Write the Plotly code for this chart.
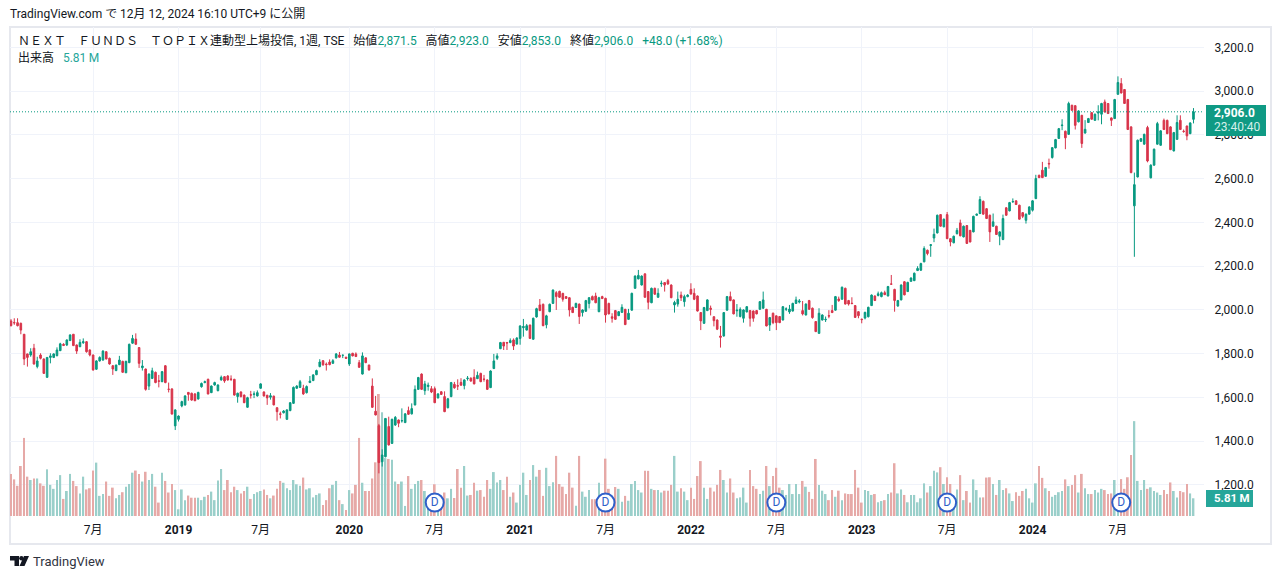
import pandas as pd
import plotly.graph_objects as go

# weekly candles, first bar is the week of 2018-01-15
open_ = [
    1950,1943,1942,1939,1889,1799,1794,1825,1741,1794,
    1776,1692,1783,1783,1791,1814,1843,1840,1860,1889,
    1840,1832,1850,1855,1817,1794,1729,1767,1771,1809,
    1779,1745,1723,1750,1765,1713,1759,1848,1867,1828,
    1736,1730,1652,1687,1715,1676,1672,1745,1638,1639,
    1470,1500,1561,1566,1623,1619,1616,1593,1649,1668,
    1683,1622,1657,1631,1680,1695,1698,1684,1683,1604,
    1625,1611,1555,1612,1614,1607,1642,1625,1610,1601,
    1606,1553,1525,1530,1500,1540,1573,1642,1646,1642,
    1622,1668,1677,1704,1741,1768,1753,1762,1756,1781,
    1794,1793,1784,1753,1802,1799,1759,1707,1781,1748,
    1652,1537,1471,1306,1329,1467,1390,1474,1497,1493,
    1485,1540,1525,1566,1637,1707,1631,1650,1640,1640,
    1598,1626,1604,1553,1604,1660,1654,1669,1654,1686,
    1688,1692,1686,1710,1684,1680,1645,1732,1779,1823,
    1852,1851,1851,1863,1844,1870,1919,1908,1931,1866,
    1968,2023,2026,1932,1992,2030,2079,2085,2076,2061,
    2056,2012,2011,2027,1988,1994,2030,2061,2064,1992,
    2061,2053,2030,1969,1997,1974,1989,2003,1957,1999,
    2099,2142,2114,2165,2084,2033,2099,2058,2120,2125,
    2134,2114,2023,2027,2068,2038,2061,2094,2076,2064,
    1988,1939,1997,2008,1969,1954,1881,1881,1999,2061,
    2046,1996,1970,1962,1991,1997,1995,1997,2003,2008,
    2003,1931,1985,1973,1970,1954,2003,1991,1995,2030,
    2036,1997,1977,2043,2008,1947,1893,1954,1955,1974,
    1997,1999,2050,2049,2099,2043,2031,2020,1992,1958,
    1963,1969,2020,2064,2066,2061,2079,2064,2119,2094,
    2018,2046,2129,2084,2131,2134,2180,2182,2220,2273,
    2295,2329,2352,2436,2380,2436,2326,2307,2349,2398,
    2334,2386,2364,2357,2433,2441,2497,2463,2433,2383,
    2383,2337,2322,2467,2453,2494,2499,2479,2445,2410,
    2438,2456,2509,2616,2639,2611,2670,2697,2741,2784,
    2843,2817,2803,2936,2934,2860,2890,2809,2857,2902,
    2867,2900,2895,2951,2944,2878,2875,2986,3035,3008,
    2962,2837,2476,2608,2771,2758,2834,2604,2662,2758,
    2753,2867,2867,2837,2727,2780,2867,2817,2841,2806,
    2871.5,
]
high = [
    1958,1962,1962,1942,1890,1800,1825,1845,1786,1802,
    1778,1785,1802,1802,1829,1850,1848,1865,1888,1890,
    1842,1866,1870,1858,1820,1796,1770,1788,1816,1812,
    1782,1748,1750,1790,1768,1768,1846,1886,1893,1830,
    1771,1732,1710,1736,1718,1703,1721,1748,1668,1642,
    1546,1518,1585,1610,1625,1622,1620,1626,1668,1677,
    1686,1655,1672,1660,1700,1698,1702,1701,1685,1622,
    1628,1613,1603,1630,1628,1632,1665,1628,1612,1620,
    1608,1555,1535,1542,1546,1578,1650,1656,1680,1658,
    1655,1698,1706,1727,1775,1771,1760,1774,1775,1803,
    1808,1795,1786,1801,1804,1806,1771,1806,1783,1750,
    1687,1607,1479,1363,1506,1512,1503,1515,1499,1550,
    1528,1558,1573,1655,1694,1710,1676,1668,1652,1650,
    1620,1629,1628,1597,1671,1671,1683,1688,1683,1698,
    1692,1729,1718,1713,1703,1683,1724,1799,1802,1854,
    1854,1854,1870,1870,1875,1930,1959,1936,1933,1965,
    2010,2050,2029,1978,2029,2094,2086,2088,2078,2063,
    2058,2015,2033,2029,2003,2046,2059,2066,2079,2060,
    2065,2056,2033,1985,2000,1995,2026,2005,2005,2079,
    2158,2183,2158,2167,2086,2102,2102,2099,2134,2127,
    2142,2117,2042,2084,2084,2070,2072,2122,2099,2066,
    1990,2014,2049,2020,1971,1957,1927,1990,2064,2084,
    2048,2027,2012,2003,2018,2000,1998,2000,2041,2084,
    2005,1968,1988,1975,1972,2018,2012,2023,2033,2061,
    2050,2041,2030,2046,2011,1949,2008,1980,1970,1999,
    2023,2064,2061,2107,2102,2046,2058,2022,1994,1960,
    1992,2015,2071,2066,2084,2084,2088,2110,2160,2097,
    2046,2117,2132,2129,2149,2171,2200,2216,2291,2276,
    2300,2372,2436,2438,2418,2448,2328,2340,2375,2413,
    2386,2388,2366,2431,2440,2520,2500,2466,2436,2441,
    2385,2360,2436,2470,2494,2510,2501,2481,2447,2441,
    2474,2502,2618,2618,2677,2654,2692,2745,2782,2832,
    2872,2820,2952,2938,2936,2913,2892,2868,2878,2905,
    2898,2936,2947,2962,2946,2880,2965,3068,3060,3010,
    2965,2840,2628,2779,2786,2806,2842,2666,2738,2860,
    2822,2875,2870,2840,2814,2890,2890,2825,2843,2858,
    2923,
]
low = [
    1925,1932,1925,1889,1748,1741,1786,1750,1733,1774,
    1708,1690,1756,1780,1788,1812,1835,1835,1858,1835,
    1799,1830,1845,1805,1788,1722,1726,1764,1768,1774,
    1750,1703,1720,1748,1713,1711,1757,1845,1841,1735,
    1723,1631,1634,1684,1665,1646,1670,1665,1623,1522,
    1451,1490,1555,1562,1585,1585,1583,1590,1645,1665,
    1614,1620,1654,1628,1677,1667,1677,1675,1608,1576,
    1600,1574,1553,1595,1597,1604,1640,1604,1566,1590,
    1564,1494,1504,1527,1497,1537,1570,1640,1643,1612,
    1618,1666,1675,1702,1738,1745,1723,1747,1754,1778,
    1782,1780,1776,1744,1788,1785,1735,1705,1757,1722,
    1552,1518,1253,1284,1326,1380,1388,1470,1464,1485,
    1483,1520,1522,1563,1634,1634,1612,1631,1620,1574,
    1595,1612,1533,1550,1601,1640,1634,1654,1637,1677,
    1672,1660,1684,1670,1672,1635,1643,1730,1771,1821,
    1817,1817,1848,1817,1842,1841,1878,1906,1868,1864,
    1965,1995,1926,1916,1990,2028,2000,2055,2038,2050,
    1970,1986,2009,1936,1970,1992,2007,2044,2031,1990,
    2050,1942,1980,1942,1955,1972,1986,1931,1955,1997,
    2097,2140,2112,2056,2003,2031,2070,2056,2106,2084,
    2115,2054,1988,2015,2041,2015,2058,2070,2045,1993,
    1908,1936,1995,1975,1925,1908,1828,1878,1997,2040,
    1980,1969,1966,1942,1989,1924,1946,1980,2001,2005,
    1925,1904,1935,1908,1940,1952,1995,1982,1993,2028,
    2030,1975,1975,2001,1960,1899,1891,1952,1945,1962,
    1986,1997,2037,2047,2025,2020,2027,1964,1962,1939,
    1957,1966,2018,2041,2062,2058,2068,2062,2116,1992,
    2015,2044,2067,2082,2129,2132,2178,2178,2218,2250,
    2243,2310,2350,2381,2378,2324,2291,2305,2345,2337,
    2332,2302,2309,2355,2431,2438,2436,2416,2311,2380,
    2343,2296,2319,2431,2451,2490,2480,2413,2420,2395,
    2436,2450,2507,2603,2603,2609,2646,2692,2739,2782,
    2822,2735,2800,2911,2825,2858,2741,2806,2855,2870,
    2865,2867,2849,2903,2896,2841,2873,2984,2990,2942,
    2823,2625,2243,2606,2769,2756,2675,2602,2660,2756,
    2751,2823,2804,2731,2725,2778,2823,2810,2776,2804,
    2853,
]
close = [
    1928,1941,1928,1908,1776,1783,1809,1753,1767,1779,
    1710,1783,1790,1799,1817,1845,1838,1863,1886,1837,
    1812,1852,1855,1809,1794,1726,1767,1783,1812,1776,
    1753,1730,1748,1771,1715,1765,1843,1870,1843,1756,
    1744,1637,1707,1722,1668,1674,1718,1668,1637,1524,
    1543,1515,1581,1607,1614,1588,1585,1623,1664,1672,
    1616,1652,1668,1657,1692,1675,1680,1683,1611,1619,
    1604,1576,1599,1611,1616,1622,1662,1607,1598,1608,
    1566,1535,1523,1538,1543,1576,1646,1652,1672,1616,
    1650,1675,1703,1723,1762,1749,1750,1750,1768,1799,
    1784,1793,1779,1799,1790,1787,1738,1790,1759,1726,
    1555,1520,1302,1337,1504,1383,1500,1509,1482,1494,
    1525,1523,1549,1637,1691,1637,1662,1656,1625,1576,
    1616,1614,1535,1594,1668,1644,1652,1656,1680,1688,
    1675,1662,1701,1672,1683,1637,1721,1767,1790,1851,
    1835,1849,1860,1835,1872,1927,1924,1928,1870,1962,
    2006,1997,1928,1973,2026,2091,2061,2058,2049,2053,
    2000,1988,2030,1970,2000,2043,2056,2046,2033,2056,
    2052,1977,1982,1962,1957,1992,2012,1933,1985,2076,
    2155,2158,2155,2058,2035,2099,2072,2076,2122,2114,
    2119,2056,2034,2049,2056,2061,2068,2073,2049,1995,
    1950,2011,2046,2003,1951,1912,1875,1988,2061,2043,
    1982,1999,2003,2000,2015,1962,1962,1982,2038,2046,
    1927,1965,1942,1942,1942,2015,2005,2004,2030,2046,
    2041,1982,2027,2003,1965,1901,1985,1977,1957,1972,
    1988,2061,2043,2104,2027,2027,2029,1966,1974,1956,
    1989,2012,2068,2043,2074,2079,2070,2107,2118,2043,
    2043,2114,2069,2126,2146,2168,2190,2212,2281,2258,
    2298,2346,2433,2383,2415,2326,2311,2337,2364,2339,
    2383,2304,2311,2428,2438,2505,2438,2418,2357,2403,
    2345,2357,2418,2433,2491,2496,2482,2415,2428,2438,
    2471,2499,2601,2605,2605,2651,2668,2742,2779,2829,
    2845,2787,2944,2913,2844,2910,2761,2826,2875,2872,
    2895,2905,2944,2905,2898,2867,2962,3040,2992,2944,
    2825,2628,2573,2776,2783,2803,2681,2662,2735,2852,
    2819,2825,2806,2733,2811,2857,2825,2816,2796,2855,
    2906,
]
# volume in millions of shares
volume = [
    13.8,12,9.9,16.4,25.6,12.9,11.8,12.3,12.3,10.7,
    9.9,15.3,10.2,8.9,11.8,13.4,5.6,8.2,13.8,11.5,
    9.8,7.4,12.9,8.7,9.1,14.9,17.5,6.6,7.2,11.3,
    6.6,9.3,5.8,6.9,7.8,9.6,10.5,14.2,14.9,13.8,
    11.3,14.5,11.8,13.8,9.6,4.4,14.2,11.5,7.7,10.5,
    8.5,2.2,8.7,5.2,6.7,6,6,6,5.2,6.3,
    6.9,8,5.2,11.6,15.4,8.5,11.8,7.8,9.6,8.5,
    7.4,8.2,9.6,5.6,7.2,7.8,8.2,8.7,6.9,5.8,
    6.7,8.9,11.5,10.9,9.1,8.5,11.8,10.4,9.9,12.6,
    8.7,9.1,6.1,6.9,7.4,3.6,5.2,9.1,10.2,11.5,
    5.2,3.9,2,8.5,7.4,10.2,25.6,10.9,8.2,8.2,
    12.3,17.6,40,34,19,18.7,18.4,11.3,10.5,11.3,
    3.3,13.1,8.9,10.5,11.5,11.8,8.2,6,5,10.4,
    5,5,7.7,5.8,8.9,5.9,15.4,9.3,16.4,6.7,
    6.9,10.9,8.3,8.5,6.3,11.8,8.9,14.4,11,11.8,
    8.5,12.9,6.3,7.7,4.4,10.2,14.2,6.9,11.8,16.7,
    12.9,15.1,6.6,15.8,9.8,11.1,19.7,10.5,9.6,7.2,
    14.2,9.3,3.4,19.7,8,6.3,8.5,5.5,5.5,10.9,
    6,18.8,8.9,5,9.5,8.9,4.7,6.6,5,10.5,
    11.5,8.5,7.7,14.8,14.8,8.9,8.5,8.5,7.7,8.3,
    8.3,10.2,19.7,8,9.1,8,5.2,9.3,5.6,13.1,
    18,9.3,5.6,9.3,8,10.2,15.1,11.8,7.7,12.3,
    7.7,5.8,6.1,9.3,4.4,15.1,9.8,8.9,7.2,8.3,
    16.4,9.8,13.1,15.8,9.3,8.5,6.9,10.5,7.2,10.5,
    7.2,11.5,9.6,7.9,5.6,18.7,10.2,8.3,7.2,5.2,
    8.5,6.3,8.3,5.2,7.4,7.2,7.2,15.1,9.3,4.4,
    8.5,8.2,6.9,7.2,4.5,4.9,5.2,7.2,7.7,17.3,
    7.4,8.7,6.9,4.5,6.9,6.9,4.5,5.8,10.7,7.7,
    9.8,14.8,14.3,16,10.5,12.7,10.5,3,8.7,13.4,
    5.2,8.2,4.4,12,8.5,6.1,6.1,12.6,12.7,10.5,
    6.9,11.8,8.5,9.1,7.4,4.9,7.8,6.6,8.2,8.9,
    5.8,4.4,10.7,16.4,12.5,9.1,8.2,6.3,6.9,7.8,
    8.2,12,9.8,10.2,13.4,7.7,13.8,9.1,7.2,7.2,
    8.5,7.7,8.9,8.5,7.2,7.4,11.8,4.2,12.1,8.9,
    12.7,20,31.1,11.5,8.5,11.8,8.9,9.4,8.2,7.7,
    6.9,8.5,7.2,11,8.2,6.1,8.2,7.8,10.5,7.4,
    5.81,
]
assert len(open_) == len(high) == len(low) == len(close) == len(volume)

tick_dates = ["2018-07-09", "2019-01-07", "2019-07-01", "2020-01-06", "2020-07-06", "2021-01-04", "2021-07-05",
              "2022-01-03", "2022-07-04", "2023-01-02", "2023-07-03", "2024-01-01", "2024-07-01"]
tick_labels = ["7月", "<b>2019</b>", "7月", "<b>2020</b>", "7月", "<b>2021</b>", "7月",
               "<b>2022</b>", "7月", "<b>2023</b>", "7月", "<b>2024</b>", "7月"]
price_ticks = [1200, 1400, 1600, 1800, 2000, 2200, 2400, 2600, 2800, 3000, 3200]

# dividend marks sit on the volume pane
div_dates = ["2020-07-06", "2021-07-05", "2022-07-04", "2023-07-03", "2024-07-08"]
div_level = [4.4, 4.4, 4.4, 4.4, 4.4]

W, H = 1281, 579
GREEN = "#089981"
RED = "#d8344a"
TEXT = "#131722"
GRID = "#f0f3fa"
FONT = "Roboto, 'Noto Sans CJK JP', sans-serif"


def px(x):
    return x / W


def py(y):
    return 1 - y / H


def label(x, y, text, size=12, color=TEXT, anchor="left"):
    return dict(x=px(x), y=py(y), xref="paper", yref="paper", text=text, showarrow=False,
                xanchor=anchor, yanchor="middle", align="left",
                font=dict(family=FONT, size=size, color=color))


def val(t):
    return '<span style="color:%s">%s</span>' % (GREEN, t)


dates = pd.date_range("2018-01-15", periods=len(close), freq="7D")
week = pd.Timedelta(days=7)

bar_colors = ["#9acfca" if c >= o else "#e6a9a7" for o, c in zip(open_, close)]

fig = go.Figure()
fig.add_trace(go.Bar(x=dates, y=volume, marker=dict(color=bar_colors, line_width=0), yaxis="y"))
fig.add_trace(go.Scatter(x=div_dates, y=div_level, mode="markers+text", text=["D"] * len(div_dates),
                         textposition="middle center", textfont=dict(family=FONT, size=12, color="#2f5fc9"),
                         marker=dict(size=18, color="white", line=dict(color="#2f5fc9", width=2)), yaxis="y"))
fig.add_trace(go.Candlestick(x=dates, open=open_, high=high, low=low, close=close, yaxis="y2", whiskerwidth=0,
                             increasing=dict(line=dict(color=GREEN, width=1), fillcolor=GREEN),
                             decreasing=dict(line=dict(color=RED, width=1), fillcolor=RED)))

gap = "\u00a0\u00a0\u00a0"
header = ("ＮＥＸＴ　ＦＵＮＤＳ　ＴＯＰＩＸ連動型上場投信, 1週, TSE" + gap + "始値" + val("2,871.5") +
          gap + "高値" + val("2,923.0") + gap + "安値" + val("2,853.0") + gap + "終値" +
          val("2,906.0") + gap + val("+48.0 (+1.68%)"))

annotations = [
    label(8, 14, "TradingView.com で 12月 12, 2024 16:10 UTC+9 に公開"),
    label(16, 41, header),
    label(16, 58, "出来高" + gap + '<span style="color:#26a69a">5.81\u2009M</span>'),
    label(1212, 113, "<b>2,906.0</b>", color="white"),
    label(1212, 127, "23:40:40", color="#d5f0ea"),
    label(1212, 498, "<b>5.81\u2009M</b>", size=11.5, color="white"),
    label(31, 561, "TradingView", size=13, color="#30343f"),
]

logo = ("M%f,%f L%f,%f L%f,%f L%f,%f L%f,%f L%f,%f Z " % (
            px(10), py(556), px(19), py(556), px(19), py(566), px(14.5), py(566), px(14.5), py(560.5), px(10), py(560.5)) +
        "M%f,%f L%f,%f L%f,%f L%f,%f Z" % (
            px(24), py(556), px(29), py(556), px(24.5), py(566), px(19.5), py(566)))

shapes = [
    dict(type="rect", xref="paper", yref="paper", x0=px(10), x1=px(1271), y0=py(544), y1=py(27),
         line=dict(color="#e6e8ee", width=2), layer="below"),
    dict(type="line", xref="paper", yref="y2", x0=px(10), x1=px(1204), y0=close[-1], y1=close[-1],
         line=dict(color=GREEN, width=1, dash="1px,2px")),
    dict(type="rect", xref="paper", yref="paper", x0=px(1206), x1=px(1266), y0=py(136), y1=py(105),
         fillcolor="#0f9a84", line_width=0, layer="above"),
    dict(type="rect", xref="paper", yref="paper", x0=px(1206), x1=px(1253), y0=py(507), y1=py(490),
         fillcolor="#26a69a", line_width=0, layer="above"),
    dict(type="path", xref="paper", yref="paper", path=logo, fillcolor="#131722", line_width=0),
    dict(type="circle", xref="paper", yref="paper", x0=px(19.2), x1=px(23.6), y0=py(560.4), y1=py(556),
         fillcolor="#131722", line_width=0),
]

fig.update_layout(
    width=W, height=H,
    margin=dict(l=0, r=0, t=0, b=0),
    paper_bgcolor="white", plot_bgcolor="white",
    showlegend=False, bargap=0.45,
    annotations=annotations, shapes=shapes,
    font=dict(family=FONT, size=12, color=TEXT),
    xaxis=dict(type="date", domain=[px(10), px(1204)],
               range=[dates[0] - 0.3 * week, dates[0] + 363.2 * week],
               tickvals=tick_dates, ticktext=tick_labels, tickangle=0,
               showgrid=True, gridcolor=GRID, gridwidth=1, zeroline=False,
               ticks="outside", ticklen=3, tickcolor="rgba(0,0,0,0)",
               rangeslider=dict(visible=False)),
    yaxis=dict(domain=[py(516), py(27)], range=[0, 160.3], visible=False, fixedrange=True),
    yaxis2=dict(domain=[py(516), py(27)], range=[1058, 3293.7], overlaying="y", side="right", anchor="x",
                tickvals=price_ticks, tickformat=",.1f", showgrid=True, gridcolor=GRID, zeroline=False,
                ticks="outside", ticklen=7, tickcolor="rgba(0,0,0,0)"),
)

fig.write_html("out.html", config={"displayModeBar": False},
               post_script="document.body.style.margin='0';document.body.style.overflow='hidden';")
